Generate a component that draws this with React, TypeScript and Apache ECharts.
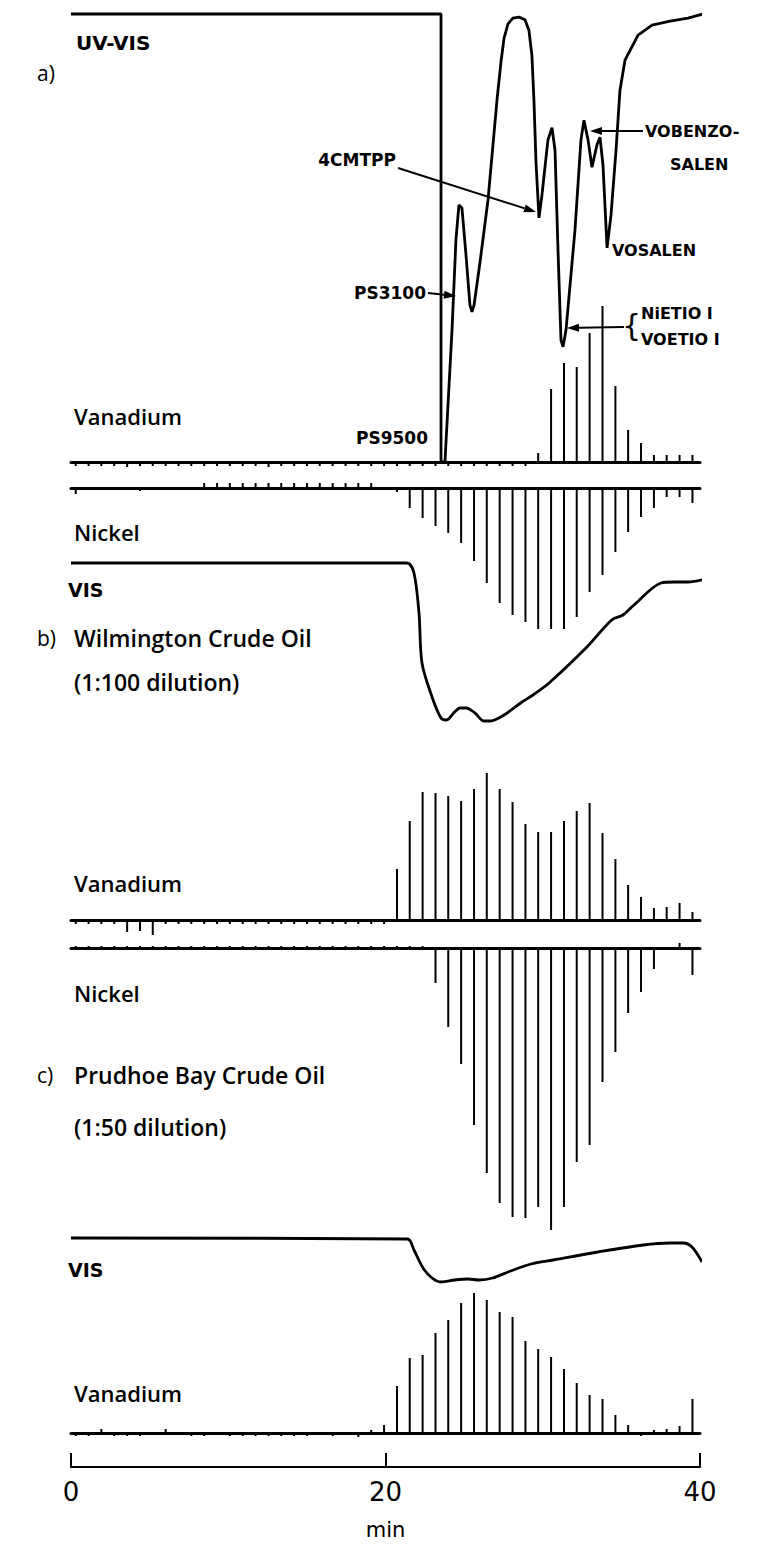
import React, { useEffect, useRef } from "react";
import * as echarts from "echarts";

// Fraction collection times (min)
const fractionTimes = [0.3, 1.12, 1.93, 2.75, 3.57, 4.39, 5.2, 6.02, 6.84, 7.65, 8.47, 9.29, 10.1, 10.92, 11.74, 12.56, 13.37, 14.19, 15.01, 15.82, 16.64, 17.46, 18.27, 19.09, 19.91, 20.73, 21.54, 22.36, 23.18, 23.99, 24.81, 25.63, 26.44, 27.26, 28.08, 28.9, 29.71, 30.53, 31.35, 32.16, 32.98, 33.8, 34.62, 35.43, 36.25, 37.07, 37.88, 38.7, 39.52];

// a) standards
const vanadiumA = [-4, -4, -4, -4, -5, -4, -4, -4, -4, -4, -4, -4, -4, -4, -4, -5, -4, -4, -4, -4, -4, -4, -4, -4, -4, -4, -4, -4, -4, -4, -4, -4, -4, -4, -4, -4, 9, 73, 99, 95, 129, 156, 76, 32, 19, 7, 7, 7, 7];
const nickelA = [6, 2, 0, 2, 0, 3, 0, 2, 0, 2, -5, -5, -5, -5, -5, -5, -5, -5, -5, -5, -5, -5, -5, -5, 0, 4, 20, 30, 38, 45, 55, 73, 95, 115, 127, 134, 141, 141, 141, 129, 104, 87, 64, 44, 29, 20, 9, 9, 15];
// b) Wilmington
const vanadiumB = [-4, -4, -4, -4, -12, -11, -15, -4, -4, -4, -4, -4, -4, -4, -4, -4, -4, -4, -4, -4, -4, -4, -4, -4, -4, 51, 99, 128, 127, 124, 119, 131, 147, 131, 118, 96, 88, 88, 99, 109, 117, 87, 61, 35, 23, 12, 13, 17, 8];
const nickelB = [-2, -2, -2, -2, -2, -2, -2, -2, -2, -2, -2, -2, -2, -2, -2, -2, -2, -2, -2, -2, -2, -2, -2, -2, -2, -2, -2, -2, 35, 79, 116, 177, 225, 255, 269, 270, 259, 282, 259, 214, 197, 134, 104, 65, 44, 21, 0, -5, 27];
// c) Prudhoe Bay
const vanadiumC = [-3, -3, 4, -3, -3, -3, 0, 4, 0, -3, -3, 0, -3, -3, -3, -3, -3, -3, -3, 0, -3, 0, -4, 3, 8, 47, 75, 78, 100, 113, 130, 140, 133, 121, 116, 92, 84, 76, 64, 50, 38, 34, 18, 8, -3, 3, 4, 7, 34];

// detector traces [min, signal]
const uvVisA = [[0, 100], [23.53, 100], [23.53, 0], [23.78, 0], [24.23, 29.5], [24.48, 49.6], [24.67, 57.4], [24.86, 56.7], [25.12, 46.2], [25.37, 35], [25.5, 33.5], [25.63, 35], [26.01, 44.6], [26.52, 58.5], [27.09, 80.8], [27.35, 89.5], [27.54, 94.6], [27.79, 97.8], [28.1, 99.1], [28.49, 99.3], [28.87, 98.7], [29.12, 96.4], [29.31, 90.8], [29.44, 80.8], [29.57, 67], [29.76, 54.5], [29.95, 59.6], [30.33, 71.9], [30.59, 74.6], [30.78, 69.6], [30.97, 47.3], [31.16, 27.2], [31.29, 25.7], [31.48, 29.5], [32.05, 51.8], [32.43, 71.9], [32.62, 76.3], [32.88, 71.9], [33.13, 65.8], [33.45, 70.8], [33.64, 72.5], [33.83, 66.3], [34.09, 47.8], [34.34, 55.1], [34.66, 69.6], [34.91, 83], [35.23, 89.7], [36.06, 95.3], [36.95, 97.5], [38.1, 98.4], [39.24, 99.1], [40.19, 100]];
const visB = [[0, 170], [21.37, 170], [21.81, 160], [22.13, 120], [22.32, 70], [22.96, 36], [23.53, 15], [23.88, 13], [24.39, 21], [24.74, 25], [25.12, 25], [25.69, 20], [26.26, 12], [26.68, 12], [27.54, 18], [28.68, 31], [29.38, 38], [30.4, 50], [32.81, 86], [34.38, 113], [35.1, 118], [35.8, 128], [37.52, 150], [38.35, 151], [39.24, 151], [40.38, 154]];
const visC = [[0, 50], [21.4, 49], [21.81, 38], [22.39, 20], [22.96, 10], [23.53, 6], [24.39, 8], [25.25, 9], [25.95, 8], [26.82, 10], [27.79, 16], [29.25, 24], [30.65, 28], [33.51, 36], [36.38, 43], [38.09, 45], [38.92, 45], [39.49, 41], [40.13, 26]];

const timeTicks = [0, 20, 40];

const FONT = "DejaVu Sans";
const LABEL_FONT = "Open Sans";
const X_LEFT = 71;
const X_WIDTH = 629;

function pairs(values: number[]) {
  return values.map((v, i) => [fractionTimes[i], v]);
}

function arrow(x1: number, y1: number, x2: number, y2: number) {
  const dx = x2 - x1, dy = y2 - y1;
  const len = Math.sqrt(dx * dx + dy * dy);
  const ux = dx / len, uy = dy / len;
  const bx = x2 - ux * 12, by = y2 - uy * 12;
  const px = -uy * 4, py = ux * 4;
  return [
    { type: "line", shape: { x1, y1, x2: bx, y2: by }, style: { stroke: "#000", lineWidth: 2 } },
    { type: "polygon", shape: { points: [[x2, y2], [bx + px, by + py], [bx - px, by - py]] }, style: { fill: "#000" } },
  ];
}

function label(text: string, x: number, y: number, size: number, weight: string = "normal", align: string = "left", family: string = FONT) {
  return {
    type: "text",
    x,
    y,
    style: {
      text,
      fill: "#000",
      font: `${weight} ${size}px "${family}"`,
      textAlign: align,
      textVerticalAlign: "middle",
      align,
      verticalAlign: "middle",
    },
  };
}

export default function App() {
  const ref = useRef<HTMLDivElement>(null);
  useEffect(() => {
    const chart = echarts.init(ref.current!, null, { renderer: "svg" });
    const panels = [
      { top: 14, height: 448, min: 0, max: 100, inverse: false, baseline: false },
      { top: 292, height: 180, min: -10, max: 170, inverse: false, baseline: true },
      { top: 478, height: 160, min: -10, max: 150, inverse: true, baseline: true },
      { top: 553, height: 180, min: 0, max: 180, inverse: false, baseline: false },
      { top: 770, height: 170, min: -20, max: 150, inverse: false, baseline: true },
      { top: 938, height: 300, min: -10, max: 290, inverse: true, baseline: true },
      { top: 1228, height: 60, min: 0, max: 60, inverse: false, baseline: false },
      { top: 1283, height: 160, min: -10, max: 150, inverse: false, baseline: true },
    ];
    const grid: any[] = panels.map((p) => ({ left: X_LEFT, width: X_WIDTH, top: p.top, height: p.height }));
    grid.push({ left: X_LEFT, width: X_WIDTH, top: 1400, height: 67 });
    const xAxis: any[] = panels.map((p, i) => ({
      type: "value",
      gridIndex: i,
      min: 0,
      max: 40,
      show: p.baseline,
      axisLine: { show: p.baseline, onZero: true, lineStyle: { color: "#000", width: 3 } },
      axisTick: { show: false },
      axisLabel: { show: false },
      splitLine: { show: false },
    }));
    xAxis.push({
      type: "value",
      gridIndex: panels.length,
      min: 0,
      max: 40,
      interval: 20,
      position: "bottom",
      axisLine: { show: true, onZero: false, lineStyle: { color: "#000", width: 2 } },
      axisTick: { show: true, inside: true, length: 14, lineStyle: { color: "#000", width: 2 } },
      axisLabel: {
        show: true,
        margin: 12,
        color: "#000",
        fontSize: 26,
        fontFamily: FONT,
        formatter: (v: number) => (timeTicks.indexOf(v) >= 0 ? String(v) : ""),
      },
      splitLine: { show: false },
      name: "min",
      nameLocation: "middle",
      nameGap: 52,
      nameTextStyle: { color: "#000", fontSize: 21, fontFamily: FONT },
    });
    const yAxis: any[] = panels.map((p, i) => ({
      type: "value",
      gridIndex: i,
      min: p.min,
      max: p.max,
      inverse: p.inverse,
      show: false,
      splitLine: { show: false },
    }));
    yAxis.push({ type: "value", gridIndex: panels.length, min: 0, max: 1, show: false, splitLine: { show: false } });

    const lineSeries = (data: number[][], idx: number, smooth: number | boolean) => ({
      type: "line",
      xAxisIndex: idx,
      yAxisIndex: idx,
      data,
      smooth,
      showSymbol: false,
      clip: false,
      lineStyle: { color: "#000", width: 2.8 },
      silent: true,
    });
    const barSeries = (values: number[], idx: number) => ({
      type: "bar",
      xAxisIndex: idx,
      yAxisIndex: idx,
      data: pairs(values),
      barWidth: 2,
      itemStyle: { color: "#000" },
      silent: true,
    });

    const graphic: any[] = [
      label("UV-VIS", 76, 43, 20, "bold"),
      label("a)", 37, 73, 21, "normal", "left", LABEL_FONT),
      label("4CMTPP", 396, 160, 17, "bold", "right"),
      ...arrow(398, 168, 536, 212),
      label("VOBENZO-", 645, 131, 16, "bold"),
      label("SALEN", 670, 164, 16, "bold"),
      ...arrow(643, 131, 590, 131),
      label("VOSALEN", 612, 250, 16, "bold"),
      label("PS3100", 426, 293, 17, "bold", "right"),
      ...arrow(428, 293, 456, 296),
      label("{", 622, 325, 30),
      label("NiETIO I", 641, 313, 16, "bold"),
      label("VOETIO I", 641, 339, 16, "bold"),
      ...arrow(624, 327, 567, 328),
      label("PS9500", 428, 438, 17, "bold", "right"),
      label("Vanadium", 74, 416, 22, "600", "left", LABEL_FONT),
      label("Nickel", 74, 532, 22, "600", "left", LABEL_FONT),
      label("VIS", 68, 590, 19, "bold"),
      label("b)", 37, 638, 21, "normal", "left", LABEL_FONT),
      label("Wilmington Crude Oil", 74, 638, 23, "600", "left", LABEL_FONT),
      label("(1:100 dilution)", 74, 682, 23, "600", "left", LABEL_FONT),
      label("Vanadium", 74, 883, 22, "600", "left", LABEL_FONT),
      label("Nickel", 74, 993, 22, "600", "left", LABEL_FONT),
      label("c)", 37, 1075, 21, "normal", "left", LABEL_FONT),
      label("Prudhoe Bay Crude Oil", 74, 1075, 23, "600", "left", LABEL_FONT),
      label("(1:50 dilution)", 74, 1127, 23, "600", "left", LABEL_FONT),
      label("VIS", 68, 1270, 19, "bold"),
      label("Vanadium", 74, 1393, 22, "600", "left", LABEL_FONT),
    ];

    chart.setOption({
      animation: false,
      backgroundColor: "#fff",
      grid,
      xAxis,
      yAxis,
      series: [
        lineSeries(uvVisA, 0, false),
        barSeries(vanadiumA, 1),
        barSeries(nickelA, 2),
        lineSeries(visB, 3, 0.3),
        barSeries(vanadiumB, 4),
        barSeries(nickelB, 5),
        lineSeries(visC, 6, 0.3),
        barSeries(vanadiumC, 7),
      ],
      graphic,
    });
    return () => chart.dispose();
  }, []);
  return <div ref={ref} style={{ position: "absolute", left: 0, top: 0, width: 770, height: 1546 }} />;
}
